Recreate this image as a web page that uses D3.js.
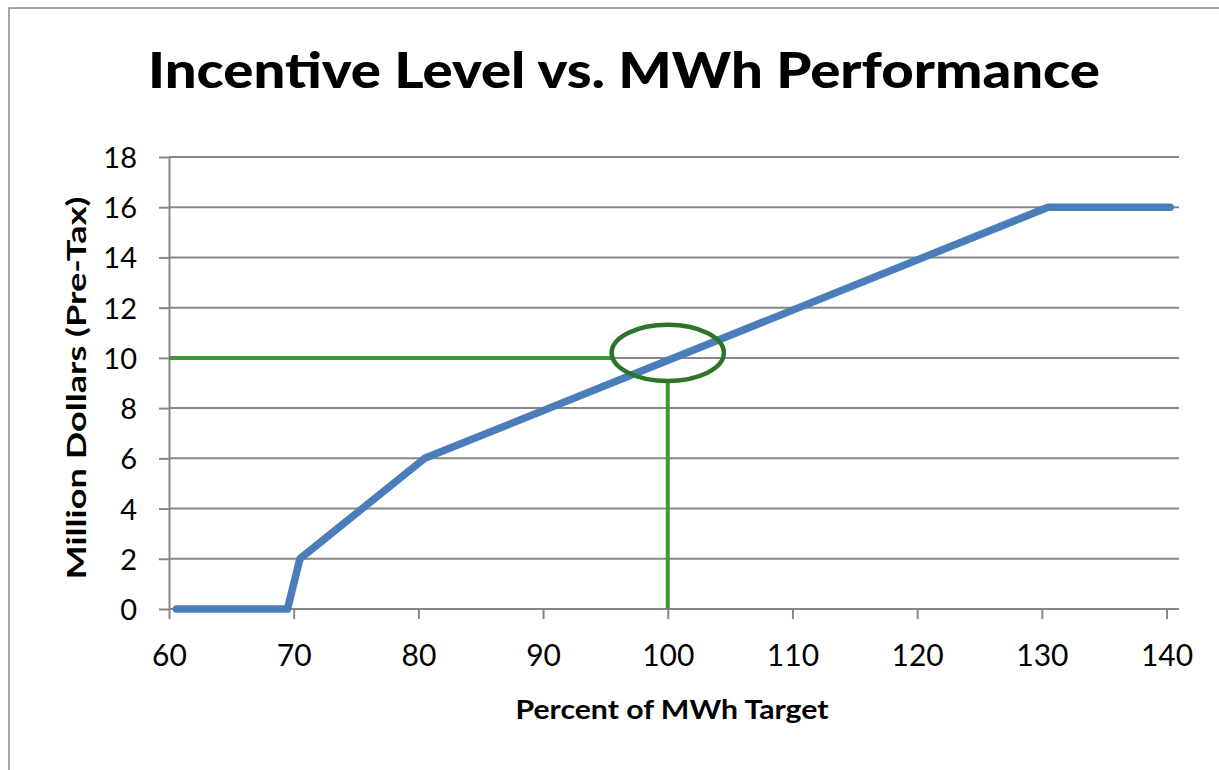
<!DOCTYPE html>
<html>
<head>
<meta charset="utf-8">
<script src="https://cdn.jsdelivr.net/npm/d3@7/dist/d3.min.js"></script>
<style>
html,body{margin:0;padding:0;background:#fff;}
svg{display:block;}
text{font-family:Lato,"Open Sans",sans-serif;fill:#000;}
</style>
</head>
<body>
<svg id="chart" width="1219" height="770"></svg>
<script>
// ---- data ----
const title = "Incentive Level vs. MWh Performance";
const xTitle = "Percent of MWh Target";
const yTitle = "Million Dollars (Pre-Tax)";
const xTicks = [60, 70, 80, 90, 100, 110, 120, 130, 140];
const yTicks = [0, 2, 4, 6, 8, 10, 12, 14, 16, 18];
const perfX = [60.6, 69.5, 70.5, 80.5, 130.5, 140.3];
const incentiveY = [0, 0, 2, 6, 16, 16];
const targetX = 100;
const targetY = 10;
const ellipseCenter = [100, 10.2];
const ellipseRadii = [4.5, 1.12];

// ---- layout ----
const svg = d3.select("#chart");
const W = 1219, H = 770;
const mLeft = 169, mRight = 1179, mTop = 157, mBottom = 609;

svg.append("rect").attr("x", 9).attr("y", 8).attr("width", W + 20).attr("height", H + 20)
  .attr("fill", "#fff").attr("stroke", "#888").attr("stroke-width", 1.5);

const x = d3.scaleLinear().domain([60, 141]).range([mLeft, mRight]);
const y = d3.scaleLinear().domain([0, 18]).range([mBottom, mTop]);

// gridlines
svg.append("g").selectAll("line").data(yTicks).join("line")
  .attr("x1", mLeft).attr("x2", mRight)
  .attr("y1", d => y(d)).attr("y2", d => y(d))
  .attr("stroke", "#878787").attr("stroke-width", 2);

// y axis
const yAxis = svg.append("g").attr("transform", `translate(${mLeft},0)`)
  .call(d3.axisLeft(y).tickValues(yTicks).tickSize(10).tickPadding(22).tickSizeOuter(0));
yAxis.select(".domain").attr("stroke", "#878787").attr("stroke-width", 2);
yAxis.selectAll(".tick line").attr("stroke", "#878787").attr("stroke-width", 2);
yAxis.selectAll(".tick text").style("font-family", "Lato").style("font-size", "29px").attr("fill", "#000").attr("dy", "0.36em");

// x axis
const xAxis = svg.append("g").attr("transform", `translate(0,${mBottom})`)
  .call(d3.axisBottom(x).tickValues(xTicks).tickSize(10).tickPadding(26).tickSizeOuter(0));
xAxis.select(".domain").attr("stroke", "#878787").attr("stroke-width", 2)
  .attr("d", `M${mLeft},0H${mRight}`);
xAxis.selectAll(".tick line").attr("stroke", "#878787").attr("stroke-width", 2);
xAxis.selectAll(".tick text").style("font-family", "Lato").style("font-size", "30px").attr("fill", "#000");

// green target lines
svg.append("line")
  .attr("x1", x(60)).attr("x2", x(ellipseCenter[0] - ellipseRadii[0]))
  .attr("y1", y(targetY)).attr("y2", y(targetY))
  .attr("stroke", "#3f9a36").attr("stroke-width", 4);
svg.append("line")
  .attr("x1", x(targetX)).attr("x2", x(targetX))
  .attr("y1", y(0)).attr("y2", y(ellipseCenter[1] - ellipseRadii[1]))
  .attr("stroke", "#3f9a36").attr("stroke-width", 4);

// performance line
const pts = perfX.map((d, i) => [d, incentiveY[i]]);
svg.append("path").datum(pts)
  .attr("d", d3.line().x(d => x(d[0])).y(d => y(d[1])))
  .attr("fill", "none").attr("stroke", "#4a7ebb").attr("stroke-width", 7.5)
  .attr("stroke-linecap", "round").attr("stroke-linejoin", "round");

// ellipse
svg.append("ellipse")
  .attr("cx", x(ellipseCenter[0])).attr("cy", y(ellipseCenter[1]))
  .attr("rx", x(ellipseCenter[0] + ellipseRadii[0]) - x(ellipseCenter[0]))
  .attr("ry", y(0) - y(ellipseRadii[1]))
  .attr("fill", "none").attr("stroke", "#2f7527").attr("stroke-width", 4.5);

// titles
svg.append("text").attr("x", 624).attr("y", 88).attr("text-anchor", "middle")
  .style("font-size", "50px").style("font-weight", "900")
  .attr("textLength", 952).attr("lengthAdjust", "spacingAndGlyphs").text(title);
svg.append("text").attr("x", 672).attr("y", 719).attr("text-anchor", "middle")
  .style("font-size", "27px").style("font-weight", "bold")
  .attr("textLength", 313).attr("lengthAdjust", "spacingAndGlyphs").text(xTitle);
svg.append("text").attr("transform", "translate(86,388) rotate(-90)").attr("text-anchor", "middle")
  .style("font-size", "27px").style("font-weight", "bold")
  .attr("textLength", 383).attr("lengthAdjust", "spacingAndGlyphs").text(yTitle);
</script>
</body>
</html>
